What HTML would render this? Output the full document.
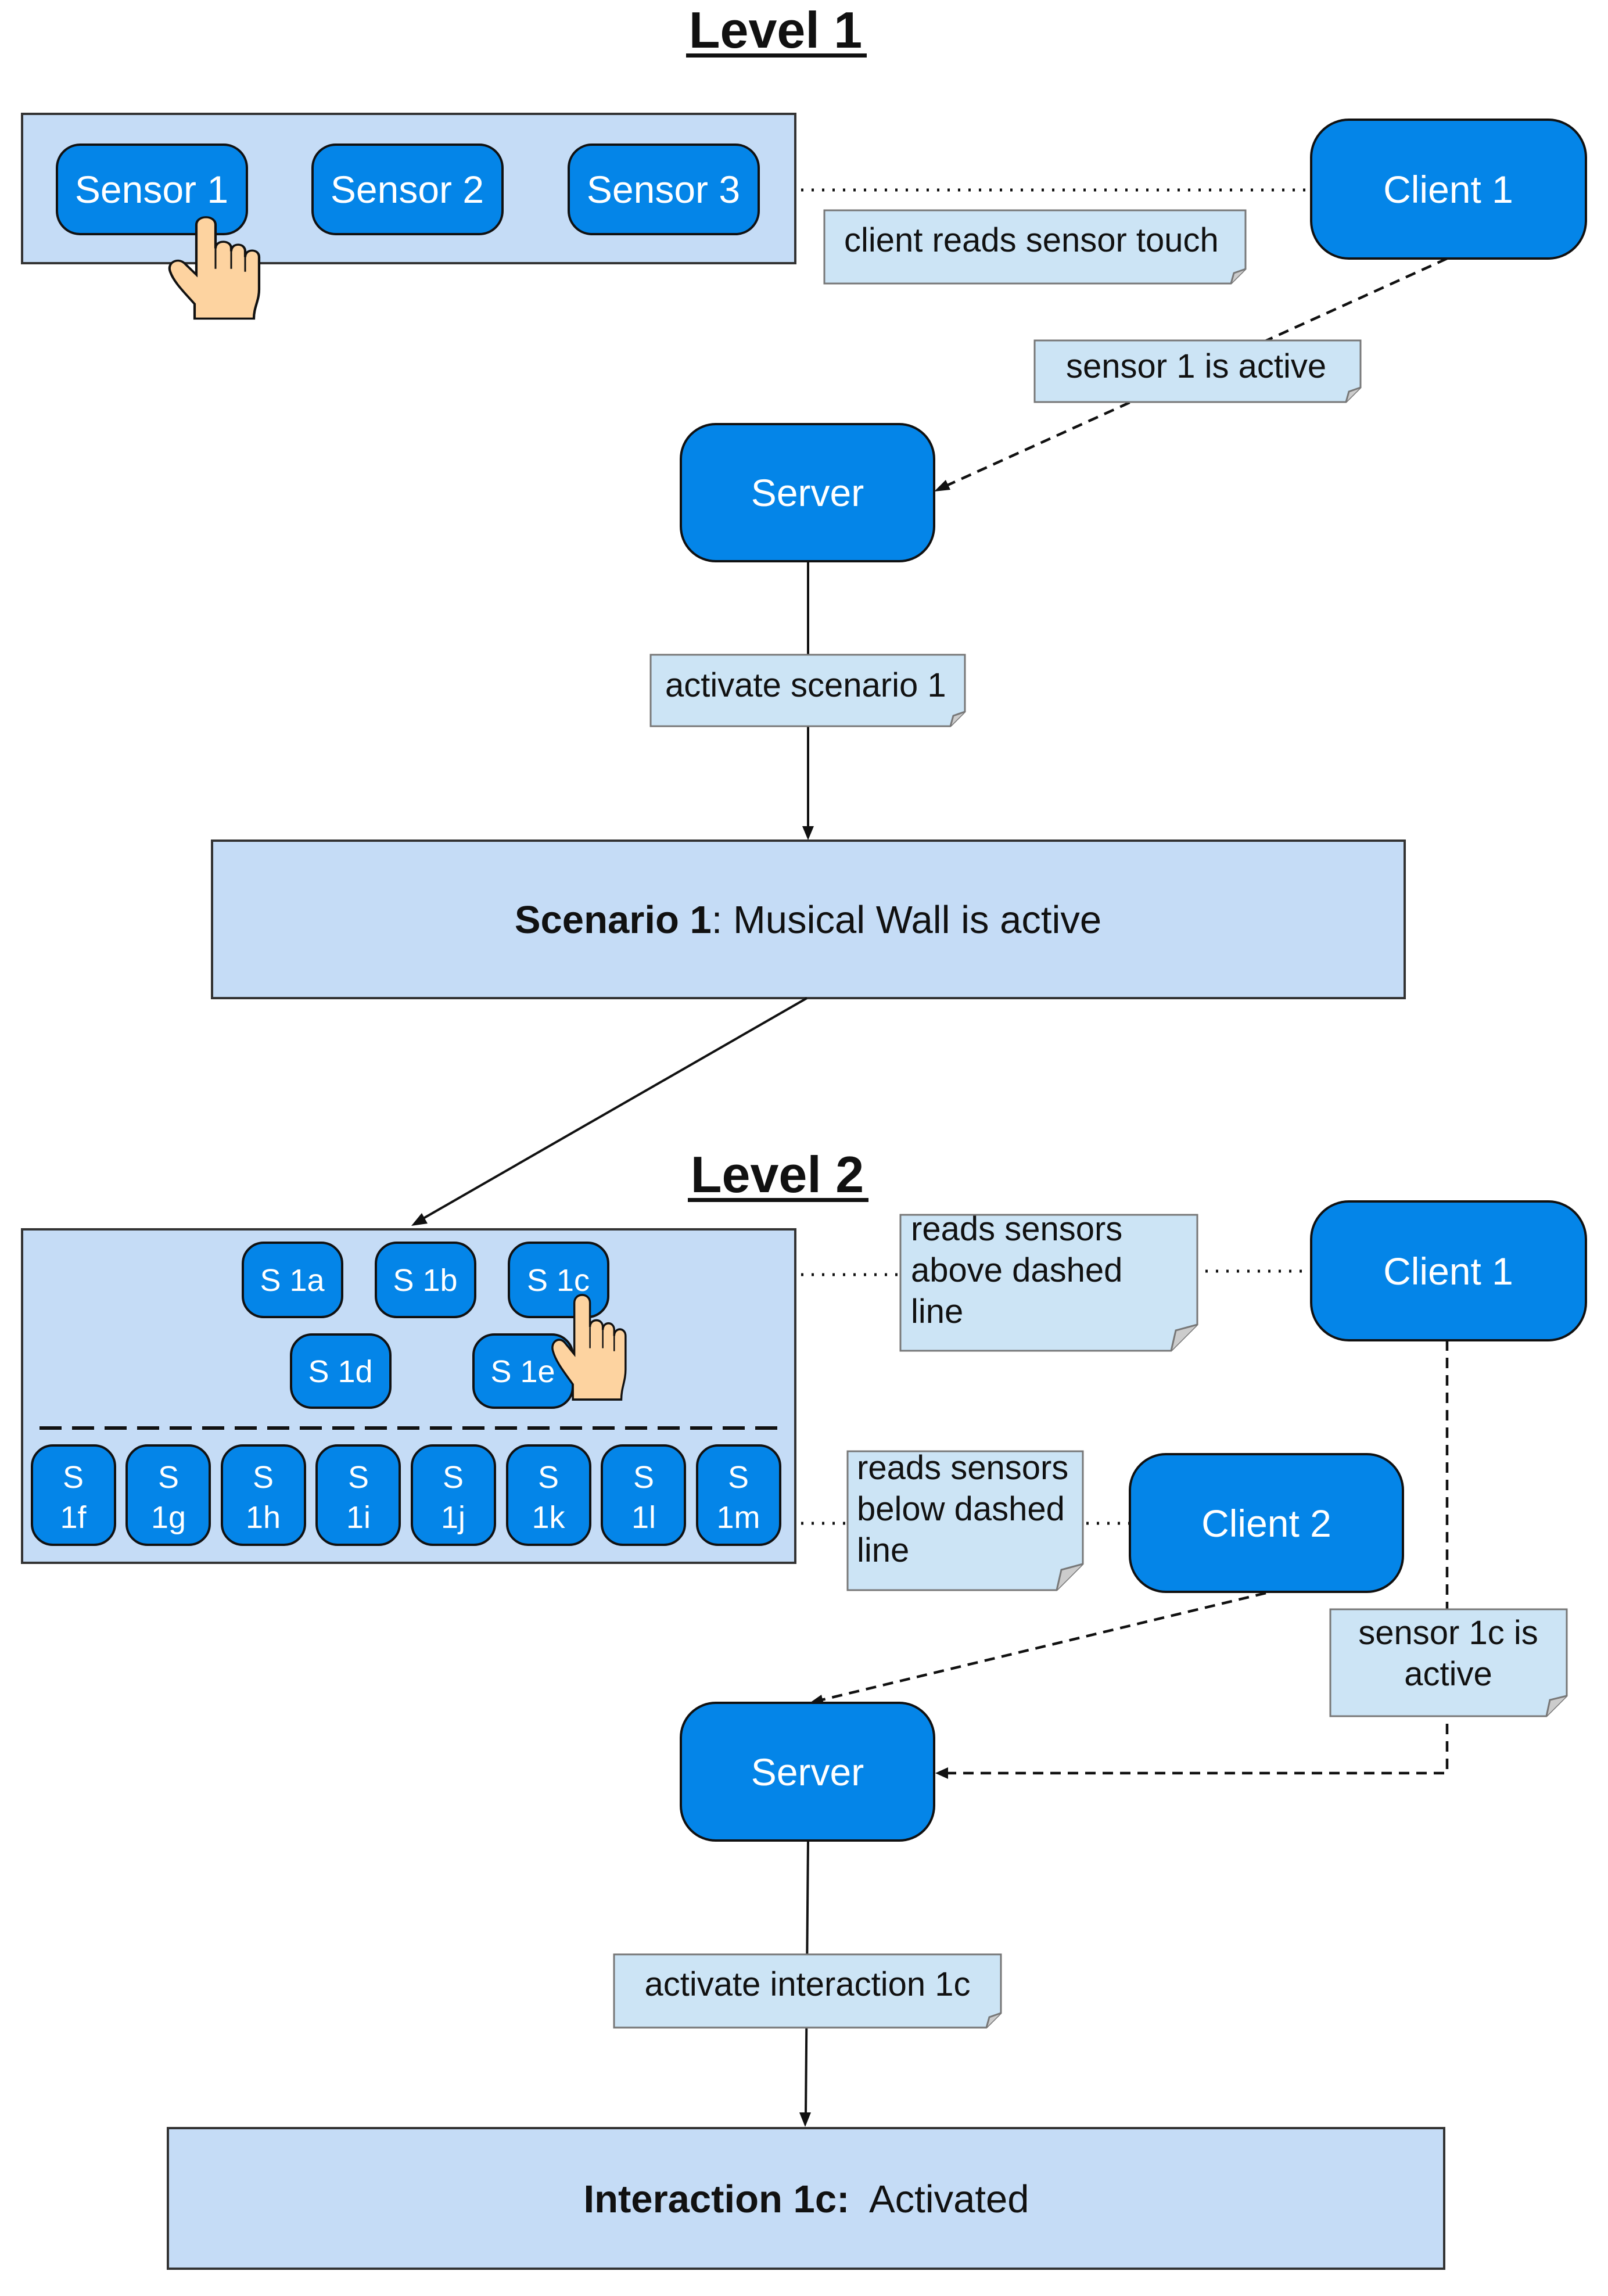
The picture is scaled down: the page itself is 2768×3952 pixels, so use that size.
<!DOCTYPE html>
<html><head><meta charset="utf-8"><style>
html,body{margin:0;padding:0;background:#fff}
svg{display:block}
text{font-family:"Liberation Sans",sans-serif}
.sn{fill:#fff;font-size:66px;text-anchor:middle;dominant-baseline:central}
.ss{fill:#fff;font-size:54px;text-anchor:middle;dominant-baseline:central}
.nt{fill:#111;font-size:58px}
.b{fill:#0485e8;stroke:#111;stroke-width:4}
.bx{fill:#c5dcf6;stroke:#333;stroke-width:4}
.note{fill:#cce4f5;stroke:#777;stroke-width:3}
</style></head><body>
<svg width="2768" height="3952" viewBox="0 0 2768 3952" xmlns="http://www.w3.org/2000/svg">
<defs>
<g id="hand">
<path d="M16,70 L16,60 C10,52 4,45 2,38 C0,32 6,28 10,32 L17,40 L17,6 C17,-1 28,-1 28,6 L28,22 C28,16 37,16 37,22 L37,24 C37,18 45,18 45,24 L45,28 C45,22 53,22 53,28 L53,50 C53,58 50,62 50,70 Z" fill="#fdd3a0" stroke="#111" stroke-width="1.4"/>
<path d="M28,22 L28,36 M37,24 L37,36 M45,28 L45,38" stroke="#111" stroke-width="1" fill="none"/>
</g>
</defs>

<!-- Level 1 -->
<text x="1335" y="82" font-size="88" font-weight="bold" text-anchor="middle" fill="#111">Level 1</text>
<rect x="1181" y="92" width="311" height="7" fill="#111"/>

<rect class="bx" x="38" y="196" width="1331" height="257"/>
<rect class="b" x="98" y="249" width="327" height="154" rx="40"/>
<text class="sn" x="261" y="326">Sensor 1</text>
<rect class="b" x="538" y="249" width="327" height="154" rx="40"/>
<text class="sn" x="701" y="326">Sensor 2</text>
<rect class="b" x="979" y="249" width="327" height="154" rx="40"/>
<text class="sn" x="1142" y="326">Sensor 3</text>
<use href="#hand" transform="translate(287,372) scale(3.0,2.52)"/>

<rect class="b" x="2257" y="206" width="473" height="239" rx="65"/>
<text class="sn" x="2493" y="326">Client 1</text>
<line x1="1379" y1="327" x2="2257" y2="327" stroke="#111" stroke-width="5" stroke-dasharray="4,14"/>

<path class="note" d="M1419,362 H2144 V463 L2119,488 H1419 Z"/>
<path d="M2144,463 L2124,470 L2119,488" fill="#ccc" stroke="#777" stroke-width="3"/>
<text class="nt" x="1453" y="433">client reads sensor touch</text>

<line x1="2491" y1="445" x2="1618" y2="841" stroke="#111" stroke-width="4.5" stroke-dasharray="18,12"/>
<polygon points="1608,846 1628,826 1636,843" fill="#111"/>

<path class="note" d="M1781,586 H2342 V667 L2317,692 H1781 Z"/>
<path d="M2342,667 L2322,674 L2317,692" fill="#ccc" stroke="#777" stroke-width="3"/>
<text class="nt" x="1835" y="650">sensor 1 is active</text>

<rect class="b" x="1172" y="730" width="436" height="236" rx="60"/>
<text class="sn" x="1390" y="848">Server</text>

<line x1="1391" y1="966" x2="1391" y2="1430" stroke="#111" stroke-width="4"/>
<polygon points="1391,1446 1381,1422 1401,1422" fill="#111"/>
<path class="note" d="M1120,1127 H1661 V1225 L1636,1250 H1120 Z"/>
<path d="M1661,1225 L1641,1232 L1636,1250" fill="#ccc" stroke="#777" stroke-width="3"/>
<text class="nt" x="1145" y="1199">activate scenario 1</text>

<rect class="bx" x="365" y="1447" width="2053" height="271"/>
<text x="1391" y="1606" font-size="67" text-anchor="middle" fill="#111"><tspan font-weight="bold">Scenario 1</tspan>: Musical Wall is active</text>

<line x1="1389" y1="1718" x2="722" y2="2101" stroke="#111" stroke-width="4"/>
<polygon points="708,2110 726,2088 736,2106" fill="#111"/>

<!-- Level 2 -->
<text x="1338" y="2052" font-size="88" font-weight="bold" text-anchor="middle" fill="#111">Level 2</text>
<rect x="1184" y="2062" width="311" height="7" fill="#111"/>

<rect class="bx" x="38" y="2116" width="1331" height="574"/>
<rect class="b" x="418" y="2139" width="171" height="128" rx="36"/>
<text class="ss" x="503" y="2204">S 1a</text>
<rect class="b" x="647" y="2139" width="171" height="128" rx="36"/>
<text class="ss" x="732" y="2204">S 1b</text>
<rect class="b" x="876" y="2139" width="171" height="128" rx="36"/>
<text class="ss" x="961" y="2204">S 1c</text>
<rect class="b" x="501" y="2297" width="171" height="126" rx="36"/>
<text class="ss" x="586" y="2361">S 1d</text>
<rect class="b" x="815" y="2297" width="171" height="126" rx="36"/>
<text class="ss" x="900" y="2361">S 1e</text>
<use href="#hand" transform="translate(947,2227) scale(2.45,2.6)"/>

<line x1="68" y1="2458" x2="1344" y2="2458" stroke="#111" stroke-width="6" stroke-dasharray="38,18"/>

<g>
<rect class="b" x="55" y="2488" width="143" height="171" rx="36"/>
<text class="ss" x="126" y="2543">S</text><text class="ss" x="126" y="2612">1f</text>
<rect class="b" x="218" y="2488" width="143" height="171" rx="36"/>
<text class="ss" x="290" y="2543">S</text><text class="ss" x="290" y="2612">1g</text>
<rect class="b" x="382" y="2488" width="143" height="171" rx="36"/>
<text class="ss" x="453" y="2543">S</text><text class="ss" x="453" y="2612">1h</text>
<rect class="b" x="545" y="2488" width="143" height="171" rx="36"/>
<text class="ss" x="617" y="2543">S</text><text class="ss" x="617" y="2612">1i</text>
<rect class="b" x="709" y="2488" width="143" height="171" rx="36"/>
<text class="ss" x="780" y="2543">S</text><text class="ss" x="780" y="2612">1j</text>
<rect class="b" x="873" y="2488" width="143" height="171" rx="36"/>
<text class="ss" x="944" y="2543">S</text><text class="ss" x="944" y="2612">1k</text>
<rect class="b" x="1036" y="2488" width="143" height="171" rx="36"/>
<text class="ss" x="1108" y="2543">S</text><text class="ss" x="1108" y="2612">1l</text>
<rect class="b" x="1200" y="2488" width="143" height="171" rx="36"/>
<text class="ss" x="1271" y="2543">S</text><text class="ss" x="1271" y="2612">1m</text>
</g>

<rect class="b" x="2257" y="2068" width="473" height="239" rx="65"/>
<text class="sn" x="2493" y="2188">Client 1</text>
<line x1="1379" y1="2194" x2="1550" y2="2194" stroke="#111" stroke-width="5" stroke-dasharray="4,14"/>
<line x1="2075" y1="2188" x2="2257" y2="2188" stroke="#111" stroke-width="5" stroke-dasharray="4,14"/>
<path class="note" d="M1550,2091 H2061 V2280 L2016,2325 H1550 Z"/>
<path d="M2061,2280 L2024,2290 L2016,2325" fill="#ccc" stroke="#777" stroke-width="3"/>
<text class="nt" x="1568" y="2135">reads sensors</text>
<text class="nt" x="1568" y="2206">above dashed</text>
<text class="nt" x="1568" y="2277">line</text>

<rect class="b" x="1945" y="2503" width="470" height="237" rx="62"/>
<text class="sn" x="2180" y="2622">Client 2</text>
<line x1="1379" y1="2622" x2="1459" y2="2622" stroke="#111" stroke-width="5" stroke-dasharray="4,14"/>
<line x1="1870" y1="2622" x2="1945" y2="2622" stroke="#111" stroke-width="5" stroke-dasharray="4,14"/>
<path class="note" d="M1459,2498 H1864 V2692 L1819,2737 H1459 Z"/>
<path d="M1864,2692 L1827,2702 L1819,2737" fill="#ccc" stroke="#777" stroke-width="3"/>
<text class="nt" x="1475" y="2546">reads sensors</text>
<text class="nt" x="1475" y="2617">below dashed</text>
<text class="nt" x="1475" y="2688">line</text>

<polyline points="2491,2307 2491,3052 1626,3052" fill="none" stroke="#111" stroke-width="4.5" stroke-dasharray="18,12"/>
<polygon points="1610,3052 1632,3042 1632,3062" fill="#111"/>
<path class="note" d="M2290,2770 H2697 V2919 L2662,2954 H2290 Z"/>
<path d="M2697,2919 L2668,2926 L2662,2954" fill="#ccc" stroke="#777" stroke-width="3"/>
<text class="nt" x="2493" y="2830" text-anchor="middle">sensor 1c is</text>
<text class="nt" x="2493" y="2901" text-anchor="middle">active</text>

<line x1="2179" y1="2742" x2="1410" y2="2927" stroke="#111" stroke-width="4.5" stroke-dasharray="18,12"/>
<polygon points="1394,2931 1414,2917 1419,2937" fill="#111"/>

<rect class="b" x="1172" y="2931" width="436" height="237" rx="60"/>
<text class="sn" x="1390" y="3050">Server</text>

<line x1="1391" y1="3168" x2="1387" y2="3640" stroke="#111" stroke-width="4"/>
<polygon points="1386,3661 1376,3636 1396,3636" fill="#111"/>
<path class="note" d="M1057,3364 H1723 V3465 L1698,3490 H1057 Z"/>
<path d="M1723,3465 L1703,3472 L1698,3490" fill="#ccc" stroke="#777" stroke-width="3"/>
<text class="nt" x="1390" y="3435" text-anchor="middle">activate interaction 1c</text>

<rect class="bx" x="289" y="3663" width="2197" height="242"/>
<text x="1388" y="3808" font-size="67" text-anchor="middle" fill="#111" xml:space="preserve"><tspan font-weight="bold">Interaction 1c:</tspan>  Activated</text>
</svg>
</body></html>
